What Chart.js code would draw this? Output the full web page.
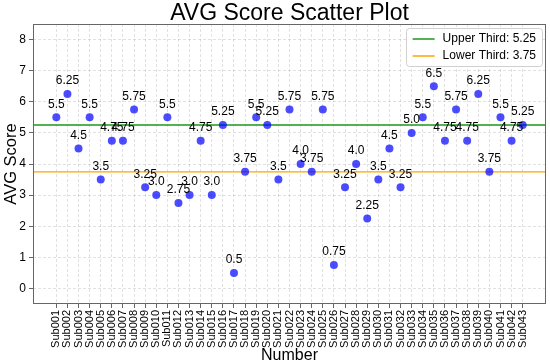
<!DOCTYPE html>
<html><head><meta charset="utf-8">
<script src="https://cdn.jsdelivr.net/npm/chart.js@4.4.1/dist/chart.umd.min.js"></script>
<style>html,body{margin:0;padding:0;background:#fff}canvas{display:block}</style>
</head><body>
<canvas id="c" width="550" height="363"></canvas>
<script>
const subjects = ["Sub001","Sub002","Sub003","Sub004","Sub005","Sub006","Sub007","Sub008","Sub009","Sub010",
  "Sub011","Sub012","Sub013","Sub014","Sub015","Sub016","Sub017","Sub018","Sub019","Sub020",
  "Sub021","Sub022","Sub023","Sub024","Sub025","Sub026","Sub027","Sub028","Sub029","Sub030",
  "Sub031","Sub032","Sub033","Sub034","Sub035","Sub036","Sub037","Sub038","Sub039","Sub040",
  "Sub041","Sub042","Sub043"];
const scores = [5.5,6.25,4.5,5.5,3.5,4.75,4.75,5.75,3.25,3.0,
  5.5,2.75,3.0,4.75,3.0,5.25,0.5,3.75,5.5,5.25,
  3.5,5.75,4.0,3.75,5.75,0.75,3.25,4.0,2.25,3.5,
  4.5,3.25,5.0,5.5,6.5,4.75,5.75,4.75,6.25,3.75,
  5.5,4.75,5.25];
const upperThird = 5.25;
const lowerThird = 3.75;
const yTickValues = [0,1,2,3,4,5,6,7,8];
const chartTitle = 'AVG Score Scatter Plot';

const FONT = "'Liberation Sans', Arial, Helvetica, sans-serif";
Chart.defaults.font.family = FONT;
Chart.defaults.color = '#000';

function fmt(v){ return Number.isInteger(v) ? v.toFixed(1) : String(v); }

const xMin = -2.1, xMax = subjects.length - 1 + 2.1;
const points = scores.map((v,i)=>({x:i, y:v}));

const framePlugin = {
  id:'frame',
  afterDraw(chart){
    const {ctx, chartArea:a} = chart;
    ctx.save();
    ctx.strokeStyle = '#666';
    ctx.lineWidth = 1;
    ctx.strokeRect(Math.round(a.left)+0.5, Math.round(a.top)+0.5, Math.round(a.right-a.left)-1, Math.round(a.bottom-a.top)-1);
    ctx.font = '23px ' + FONT;
    ctx.fillStyle = '#000';
    ctx.textAlign = 'center';
    ctx.textBaseline = 'middle';
    ctx.fillText(chartTitle, (a.left + a.right)/2, 14);
    ctx.restore();
  }
};

const labelPlugin = {
  id:'valueLabels',
  afterDatasetsDraw(chart){
    const meta = chart.getDatasetMeta(0);
    const ctx = chart.ctx;
    ctx.save();
    ctx.font = '12px ' + FONT;
    ctx.fillStyle = '#000';
    ctx.textAlign = 'center';
    ctx.textBaseline = 'middle';
    meta.data.forEach((pt,i)=>{ ctx.fillText(fmt(scores[i]), pt.x, pt.y - 13); });
    ctx.restore();
  }
};

const legendPlugin = {
  id:'innerLegend',
  afterDraw(chart){
    const {ctx, chartArea:a} = chart;
    const items = [chart.data.datasets[1], chart.data.datasets[2]];
    ctx.save();
    ctx.font = '12px ' + FONT;
    const tw = Math.max(...items.map(d=>ctx.measureText(d.label).width));
    const w = 7 + 22 + 8 + tw + 6;
    const h = 38;
    const x = a.right - 4 - w, y = a.top + 4;
    ctx.fillStyle = 'rgba(255,255,255,0.85)';
    ctx.strokeStyle = '#d0d0d0';
    ctx.lineWidth = 1;
    ctx.beginPath();
    ctx.roundRect(Math.round(x)+0.5, Math.round(y)+0.5, Math.round(w), Math.round(h), 3);
    ctx.fill(); ctx.stroke();
    items.forEach((d,i)=>{
      const ry = y + 11 + i*17;
      ctx.strokeStyle = d.borderColor; ctx.lineWidth = 1.5;
      ctx.beginPath(); ctx.moveTo(x+7, ry); ctx.lineTo(x+29, ry); ctx.stroke();
      ctx.fillStyle = '#000'; ctx.textAlign='left'; ctx.textBaseline='middle';
      ctx.fillText(d.label, x+37, ry);
    });
    ctx.restore();
  }
};

new Chart(document.getElementById('c'), {
  type:'scatter',
  data:{
    datasets:[
      {label:'AVG Score', data:points, backgroundColor:'rgba(0,0,255,0.7)', borderWidth:0, pointRadius:4, order:0},
      {label:'Upper Third: ' + upperThird, type:'line', data:[{x:xMin,y:upperThird},{x:xMax,y:upperThird}], borderColor:'#1a9a1a', borderWidth:1.5, pointRadius:0, fill:false, order:1},
      {label:'Lower Third: ' + lowerThird, type:'line', data:[{x:xMin,y:lowerThird},{x:xMax,y:lowerThird}], borderColor:'#ffa500', borderWidth:1.2, pointRadius:0, fill:false, order:2}
    ]
  },
  options:{
    responsive:false, animation:false, devicePixelRatio:1,
    layout:{padding:{left:0,right:3,top:24,bottom:0}},
    plugins:{
      legend:{display:false}, tooltip:{enabled:false}, title:{display:false}
    },
    scales:{
      x:{type:'linear', bounds:'data', min:xMin, max:xMax,
        afterBuildTicks:s=>{ s.ticks = subjects.map((_,i)=>({value:i})); },
        ticks:{autoSkip:false, minRotation:90, maxRotation:90, padding:2, font:{size:11}, color:'#000', callback:(v)=>subjects[v]},
        grid:{color:'rgba(0,0,0,0.15)', lineWidth:0.8, tickLength:4, tickColor:'#666', tickWidth:1, tickBorderDash:[]},
        border:{display:false, dash:[3,2]},
        title:{display:true, text:'Number', font:{size:16}, color:'#000', padding:{top:0,bottom:-2}},
        afterFit:s=>{ s.height = 59; }
      },
      y:{type:'linear', bounds:'data', min:-0.5, max:8.5,
        afterBuildTicks:s=>{ s.ticks = yTickValues.map(v=>({value:v})); },
        ticks:{padding:3, font:{size:12}, color:'#000'},
        grid:{color:'rgba(0,0,0,0.15)', lineWidth:0.8, tickLength:4, tickColor:'#666', tickWidth:1, tickBorderDash:[]},
        border:{display:false, dash:[3,2]},
        title:{display:true, text:'AVG Score', font:{size:16.5}, color:'#000', padding:{top:2,bottom:0}},
        afterFit:s=>{ s.width = 33; }
      }
    }
  },
  plugins:[labelPlugin, framePlugin, legendPlugin]
});
</script>
</body></html>
